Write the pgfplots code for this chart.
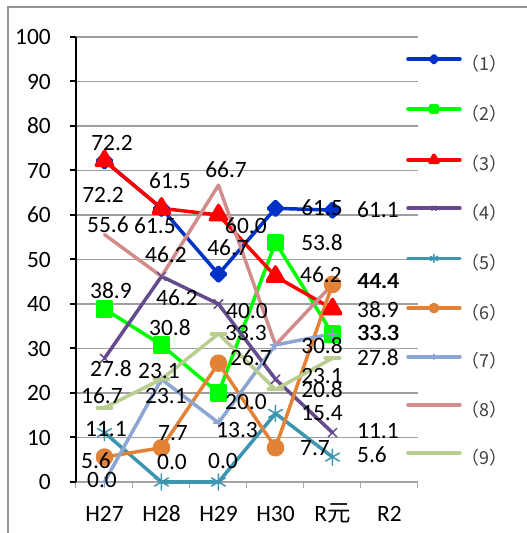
\documentclass[border=0pt]{standalone}
\usepackage{pgfplots}
\pgfplotsset{compat=1.18}
\usepackage{fontspec}
\setmainfont{Carlito}
\newfontfamily\cjk{Noto Sans CJK JP}
\definecolor{c1}{RGB}{0,50,200}
\definecolor{c2}{RGB}{0,255,0}
\definecolor{c3}{RGB}{255,0,0}
\definecolor{c4}{RGB}{100,75,140}
\definecolor{c5}{RGB}{60,150,175}
\definecolor{c6}{RGB}{225,130,55}
\definecolor{c7}{RGB}{140,165,210}
\definecolor{c8}{RGB}{210,140,140}
\definecolor{c9}{RGB}{185,205,145}
\newcommand{\lab}{\fontsize{23.5}{24}\selectfont}
\begin{document}
\begin{tikzpicture}
\useasboundingbox (-76bp,-51bp) rectangle (451bp,482bp);
\draw[gray!85, line width=1.2bp] (-68bp,-51bp) -- (-68bp,475bp) -- (451bp,475bp);
\begin{axis}[
 at={(0,0)}, anchor=south west,
 scale only axis, width=342bp, height=445bp,
 xmin=-0.5, xmax=5.5, ymin=0, ymax=100,
 clip=false,
 axis x line=bottom, axis y line=left,
 axis line style={-},
 x axis line style={draw=gray!70, line width=1bp},
 y axis line style={draw=black, line width=2bp},
 xtick={-0.5,0.5,1.5,2.5,3.5,4.5},
 xticklabels={H27,H28,H29,H30,R{\cjk 元},R2},
 extra x ticks={5.5}, extra x tick labels={},
 ytick={0,10,...,100},
 tick align=outside,
 major tick length=6bp,
 xtick style={draw=gray!70, line width=1bp},
 ytick style={draw=black, line width=2bp},
 ymajorgrids, major grid style={gray!75, line width=1.2bp},
 /pgf/number format/assume math mode=true,
 tick label style={font=\lab},
 xticklabel style={anchor=base, inner sep=0pt, xshift=28.5bp, yshift=-33bp},
 yticklabel style={anchor=east, inner sep=0pt, xshift=-19bp},
 every axis plot/.append style={line width=3.5bp, line join=round, line cap=round},
 legend style={at={(0.9656,0.958)}, anchor=north west, draw=none, fill=none,
   inner sep=0pt, outer sep=0pt, row sep=31.1bp, column sep=0bp,
   font=\cjk\fontsize{18}{18}\selectfont, text=black!75,
   nodes={inner sep=0pt, text height=13bp, text depth=4bp}},
 legend cell align=left,
 legend image code/.code={\draw[#1, mark repeat=2, mark phase=2, /tikz/every mark/.append style={scale=0.5}] plot coordinates {(0bp,6.6bp)(26bp,6.6bp)(52bp,6.6bp)};},
]
\addplot[c1, mark=square*, mark size=5bp, mark options={rotate=45, line join=round}] coordinates {(0,72.2)(1,61.5)(2,46.7)(3,61.5)(4,61.1)};
\addlegendentry{（1）}
\addplot[c2, mark=square*, mark size=7bp] coordinates {(0,38.9)(1,30.8)(2,20.0)(3,53.8)(4,33.3)};
\addlegendentry{（2）}
\addplot[c3, mark=triangle*, mark size=9.5bp, mark options={line join=round}] coordinates {(0,72.2)(1,61.5)(2,60.0)(3,46.2)(4,38.9)};
\addlegendentry{（3）}
\addplot[c4, mark=x, mark size=6bp, mark options={line width=1.5bp}] coordinates {(0,27.8)(1,46.2)(2,40.0)(3,23.1)(4,11.1)};
\addlegendentry{（4）}
\addplot[c5, mark=asterisk, mark size=8bp, mark options={line width=1.5bp}] coordinates {(0,11.1)(1,0.0)(2,0.0)(3,15.4)(4,5.6)};
\addlegendentry{（5）}
\addplot[c6, mark=*, mark size=7bp] coordinates {(0,5.6)(1,7.7)(2,26.7)(3,7.7)(4,44.4)};
\addlegendentry{（6）}
\addplot[c7, mark=+, mark size=5bp, mark options={line width=1.5bp}] coordinates {(0,0.0)(1,23.1)(2,13.3)(3,30.8)(4,33.3)};
\addlegendentry{（7）}
\addplot[c8, mark=none] coordinates {(0,55.6)(1,46.2)(2,66.7)(3,30.8)(4,44.4)};
\addlegendentry{（8）}
\addplot[c9, mark=-, mark size=7bp, mark options={line width=4bp}] coordinates {(0,16.7)(1,23.1)(2,33.3)(3,20.8)(4,27.8)};
\addlegendentry{（9）}
\addplot[forget plot, draw=none, mark=none, nodes near coords, point meta=explicit symbolic,
  every node near coord/.style={inner sep=0pt, font=\lab, text=black, yshift=-7.45bp}]
 table[meta=l] {
x y l
0.132 75.7 72.2
-0.026 64.0 72.2
0.061 57.3 55.6
0.114 42.5 38.9
0.114 24.9 27.8
-0.044 18.9 16.7
0.026 11.5 11.1
-0.149 4.3 5.6
-0.044 0.0 0.0
1.149 67.2 61.5
0.886 57.1 61.5
1.079 50.6 46.2
1.272 40.9 46.2
1.149 34.2 30.8
0.956 24.5 23.1
1.079 18.9 23.1
1.202 10.6 7.7
1.184 4.0 0.0
2.132 69.7 66.7
2.482 57.1 60.0
2.167 52.1 46.7
2.500 37.9 40.0
2.482 33.0 33.3
2.570 27.4 26.7
2.482 17.5 20.0
2.325 11.2 13.3
2.079 4.3 0.0
3.816 61.1 61.5
3.816 53.3 53.8
3.798 46.1 46.2
3.816 30.1 30.8
3.816 23.4 23.1
3.816 20.2 20.8
3.816 15.1 15.4
3.693 7.2 7.7
4.798 60.7 61.1
4.798 44.7 44.4
4.810 44.7 44.4
4.798 38.2 38.9
4.798 33.0 33.3
4.810 33.0 33.3
4.798 27.4 27.8
4.798 11.0 11.1
4.693 5.6 5.6
};
\end{axis}
\end{tikzpicture}
\end{document}
